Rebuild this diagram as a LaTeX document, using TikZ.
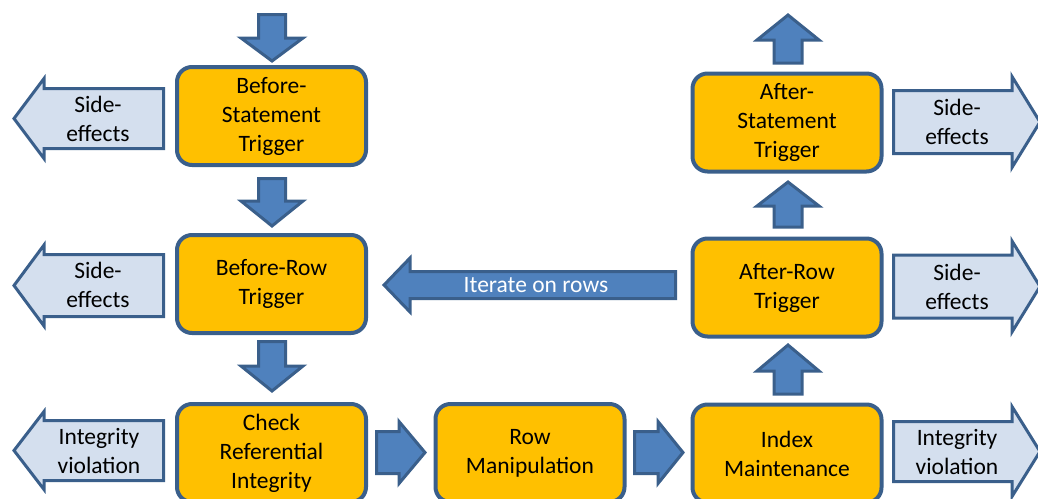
\documentclass[tikz,border=0pt]{standalone}
\usepackage{fontspec}
\setmainfont{Carlito}
\definecolor{boxfill}{HTML}{FFC000}
\definecolor{edgeblue}{HTML}{3A5F8B}
\definecolor{arrowblue}{HTML}{4F81BD}
\definecolor{paleblue}{HTML}{D4DFEE}
\tikzset{
  stage/.style={draw=edgeblue, line width=4pt, fill=boxfill, rounded corners=15pt,
    minimum width=189pt, minimum height=98pt, inner sep=0pt, align=center,
    font=\fontsize{23.5}{29}\selectfont},
  flowarrow/.style={draw=edgeblue, line width=3pt, fill=arrowblue, line join=miter},
  sidearrow/.style={draw=edgeblue, line width=3pt, fill=paleblue, line join=miter},
  sidetext/.style={align=center, inner sep=0pt, font=\fontsize{23.5}{29}\selectfont},
}
% vertical block arrow: x centre, tail y, head-base y, tip y, shaft half width, head half width
\newcommand\vblock[7]{%
  \draw[#7] ({#1-#5},#2) -- ({#1+#5},#2) -- ({#1+#5},#3) -- ({#1+#6},#3) -- (#1,#4)
    -- ({#1-#6},#3) -- ({#1-#5},#3) -- cycle;}
% horizontal block arrow: y centre, tail x, head-base x, tip x, shaft half height, head half height
\newcommand\hblock[7]{%
  \draw[#7] (#2,{#1-#5}) -- (#2,{#1+#5}) -- (#3,{#1+#5}) -- (#3,{#1+#6}) -- (#4,#1)
    -- (#3,{#1-#6}) -- (#3,{#1-#5}) -- cycle;}
\begin{document}
\begin{tikzpicture}[x=1pt,y=-1pt]
\useasboundingbox (0,0) rectangle (1038,498);
\begin{scope}
\clip (0,0) rectangle (1038,498);

% processing stages
\node[stage] (bst) at (271.5,116) {Before-\\Statement\\Trigger};
\node[stage] (brt) at (271.5,284) {Before-Row\\Trigger};
\node[stage] (cri) at (271.5,453) {Check\\Referential\\Integrity};
\node[stage] (rm)  at (530,453)   {Row\\Manipulation};
\node[stage] (im)  at (787,453.5) {Index\\Maintenance};
\node[stage] (art) at (787,287.5) {After-Row\\Trigger};
\node[stage] (ast) at (787,122.5) {After-\\Statement\\Trigger};

% main flow, left column going down
\vblock{272}{14.5}{38}{61}{13.5}{31}{flowarrow}
\vblock{272}{178.5}{201}{226}{13.5}{31}{flowarrow}
\vblock{272}{341.5}{366}{391}{13.5}{31}{flowarrow}

% bottom row going right
\hblock{452.5}{376.5}{399}{425}{21}{31}{flowarrow}
\hblock{452.5}{634.5}{658}{683}{21}{31}{flowarrow}

% right column going up
\vblock{788}{394}{371}{345}{14}{31}{flowarrow}
\vblock{788}{227}{206}{182}{14}{31}{flowarrow}
\vblock{788}{63}{40}{15}{14}{31}{flowarrow}

% loop back over the rows
\hblock{285}{675.5}{410}{384}{13.5}{27}{flowarrow}
\node[sidetext, text=white] (iter) at (536,285) {Iterate on rows};

% side outputs on the left
\hblock{118.5}{163.5}{44}{14}{30}{40}{sidearrow}
\node[sidetext] (se1) at (98,118.5) {Side-\\effects};
\hblock{285.5}{163.5}{44}{14}{31}{40.5}{sidearrow}
\node[sidetext] (se2) at (98,285) {Side-\\effects};
\hblock{450.5}{163.5}{44}{14}{30}{39}{sidearrow}
\node[sidetext] (iv1) at (99,451) {Integrity\\violation};

% side outputs on the right
\hblock{122}{893.5}{1012}{1040}{31.5}{45.5}{sidearrow}
\node[sidetext] (se3) at (957,122) {Side-\\effects};
\hblock{286.5}{893.5}{1012}{1040}{31.5}{45.5}{sidearrow}
\node[sidetext] (se4) at (957,287) {Side-\\effects};
\hblock{451.5}{893.5}{1012}{1040}{30}{45}{sidearrow}
\node[sidetext] (iv2) at (957,451.5) {Integrity\\violation};
\end{scope}
\end{tikzpicture}
\end{document}
